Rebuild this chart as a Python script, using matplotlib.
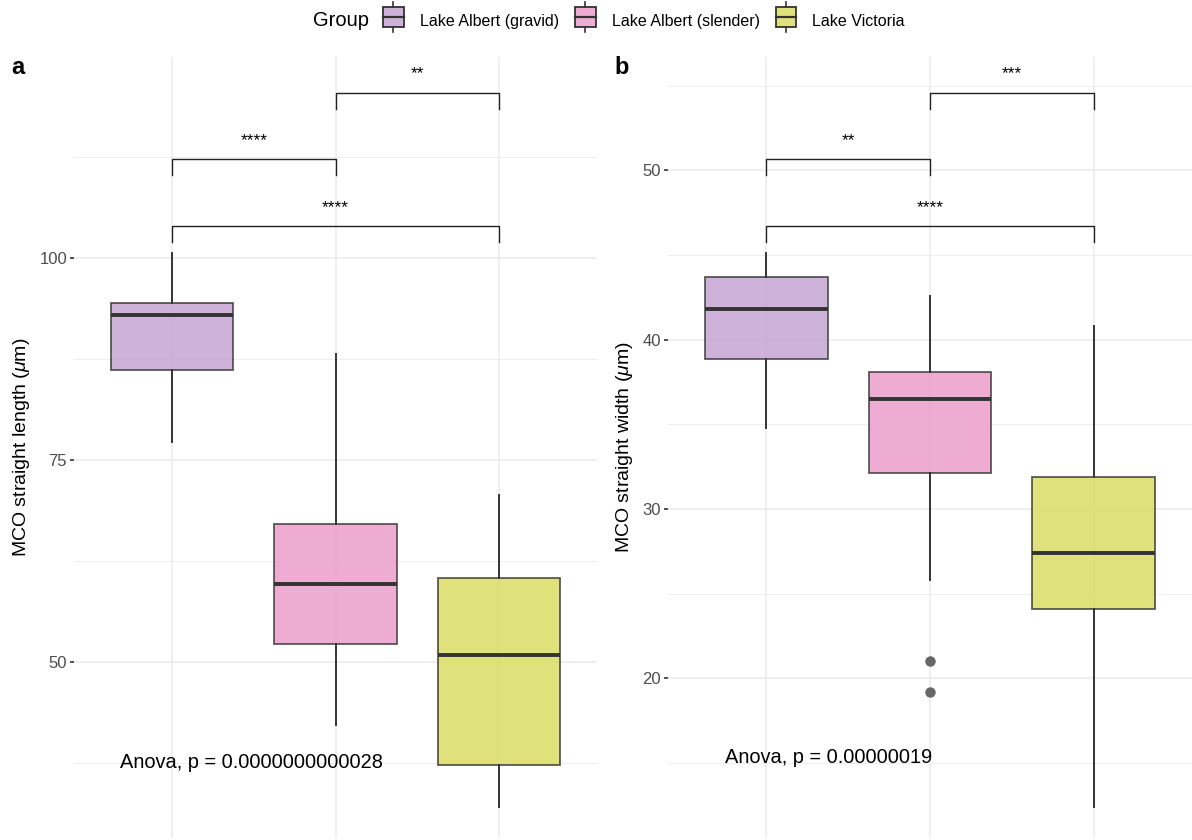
import matplotlib
matplotlib.use("Agg")
import matplotlib.pyplot as plt
from matplotlib.patches import Rectangle, Patch
from matplotlib.lines import Line2D
from matplotlib.legend_handler import HandlerBase

plt.rcParams['font.family'] = ['Liberation Sans', 'DejaVu Sans']
plt.rcParams['mathtext.fontset'] = 'custom'
plt.rcParams['mathtext.it'] = 'Liberation Sans:italic'
plt.rcParams['mathtext.rm'] = 'Liberation Sans'

# data
groups = ['Lake Albert (gravid)', 'Lake Albert (slender)', 'Lake Victoria']
colors = ['#c39fd0', '#ea98c9', '#d7db59']

# panel a: length  (whislo, q1, med, q3, whishi)
len_whislo = [77.2, 42.2, 32.1]
len_q1 = [86.1, 52.2, 37.3]
len_med = [93.0, 59.7, 50.9]
len_q3 = [94.5, 67.1, 60.4]
len_whishi = [100.6, 88.1, 70.7]
len_fliers = [[], [], []]

# panel b: width
wid_whislo = [34.8, 25.8, 12.4]
wid_q1 = [38.85, 32.1, 24.1]
wid_med = [41.8, 36.5, 27.4]
wid_q3 = [43.7, 38.1, 31.9]
wid_whishi = [45.1, 42.6, 40.8]
wid_fliers = [[], [21.0, 19.2], []]

# brackets: (i, j, y, label)
len_brackets = [(1, 2, 112.3, '****'), (2, 3, 120.5, '**'), (1, 3, 104.0, '****')]
wid_brackets = [(1, 2, 50.65, '**'), (2, 3, 54.6, '***'), (1, 3, 46.7, '****')]

len_anova = 'Anova, p = 0.0000000000028'
wid_anova = 'Anova, p = 0.00000019'

fig = plt.figure(figsize=(11.92, 8.4), dpi=100)


def panel(rect, whislo, q1, med, q3, whishi, fliers, brackets, ylim, yticks, minor,
          ylabel, anova, anova_xy, tag, tag_x):
    ax = fig.add_axes(rect)
    stats = []
    for k in range(3):
        stats.append(dict(whislo=whislo[k], q1=q1[k], med=med[k], q3=q3[k],
                          whishi=whishi[k], fliers=fliers[k]))
    # grid
    for yv in yticks:
        ax.axhline(yv, color='#ebebeb', lw=1.1, zorder=0)
    for yv in minor:
        ax.axhline(yv, color='#ebebeb', lw=0.6, zorder=0)
    for xv in [1, 2, 3]:
        ax.axvline(xv, color='#ebebeb', lw=1.1, zorder=0)
    bp = ax.bxp(stats, positions=[1, 2, 3], widths=0.75, patch_artist=True,
                showcaps=False,
                boxprops=dict(edgecolor='#333333', linewidth=1.3),
                medianprops=dict(color='#333333', linewidth=2.8),
                whiskerprops=dict(color='#333333', linewidth=1.4),
                flierprops=dict(marker='o', markerfacecolor='#666666',
                                markeredgecolor='#666666', markersize=6.5),
                zorder=2)
    for p, c in zip(bp['boxes'], colors):
        p.set_facecolor(c)
        p.set_alpha(0.8)
        p.set_edgecolor('#333333')
    span = ylim[1] - ylim[0]
    drop = span * 0.0205
    for i, j, y, lab in brackets:
        ax.plot([i, i, j, j], [y - drop, y, y, y - drop], color='#222222', lw=1.0, zorder=3)
        ax.text((i + j) / 2, y + span * 0.014, lab, ha='center', va='bottom', fontsize=12.5)
    ax.text(anova_xy[0], anova_xy[1], anova, ha='left', va='center', fontsize=14.4)
    ax.set_xlim(0.4, 3.6)
    ax.set_ylim(*ylim)
    ax.set_xticks([])
    ax.set_yticks(yticks)
    ax.tick_params(axis='y', length=3, width=1.2, color='#333333', labelcolor='#4d4d4d',
                   labelsize=12, pad=2)
    for s in ax.spines.values():
        s.set_visible(False)
    ax.set_ylabel(ylabel, fontsize=14, labelpad=5)
    fig.text(tag_x / 1192, 1 - 68 / 840, tag, fontsize=17, fontweight='bold',
             va='center', ha='left')
    return ax


panel([74 / 1192, 2 / 840, 523 / 1192, 781 / 840],
      len_whislo, len_q1, len_med, len_q3, len_whishi, len_fliers, len_brackets,
      (28.2, 124.9), [50, 75, 100], [37.5, 62.5, 87.5, 112.5],
      r'MCO straight length ($\mu$m)', len_anova, (0.68, 37.6), 'a', 11)

panel([668 / 1192, 2 / 840, 524 / 1192, 781 / 840],
      wid_whislo, wid_q1, wid_med, wid_q3, wid_whishi, wid_fliers, wid_brackets,
      (10.56, 56.7), [20, 30, 40, 50], [15, 25, 35, 45, 55],
      r'MCO straight width ($\mu$m)', wid_anova, (0.75, 15.3), 'b', 614)


class BoxHandler(HandlerBase):
    # small boxplot glyph like ggplot's legend key
    def create_artists(self, legend, orig, xd, yd, w, h, fs, trans):
        cx = xd + w / 2
        cy = yd + h / 2
        bh = 14.0  # box height in points
        r = Rectangle((xd, cy - bh / 2), w, bh, facecolor=orig.get_facecolor(),
                      edgecolor='#333333', lw=1.3, transform=trans)
        m = Line2D([xd, xd + w], [cy, cy], color='#333333', lw=1.6, transform=trans)
        t = Line2D([cx, cx], [cy + bh / 2, cy + bh / 2 + 4], color='#333333', lw=1.2,
                   transform=trans)
        b = Line2D([cx, cx], [cy - bh / 2, cy - bh / 2 - 4], color='#333333', lw=1.2,
                   transform=trans)
        return [r, m, t, b]


fig.text(313 / 1192, 1 - 21 / 840, 'Group', fontsize=14.5, ha='left', va='center')
handles = [Patch(facecolor=c, alpha=0.8) for c in colors]
fig.legend(handles, groups, loc='center left', bbox_to_anchor=(383 / 1192, 1 - 21 / 840),
           ncol=3, frameon=False, fontsize=11.5, borderpad=0, borderaxespad=0,
           handler_map={Patch: BoxHandler()}, handlelength=1.3, handleheight=1.0,
           columnspacing=1.0, handletextpad=1.0)

fig.savefig('out.png', dpi=100)
